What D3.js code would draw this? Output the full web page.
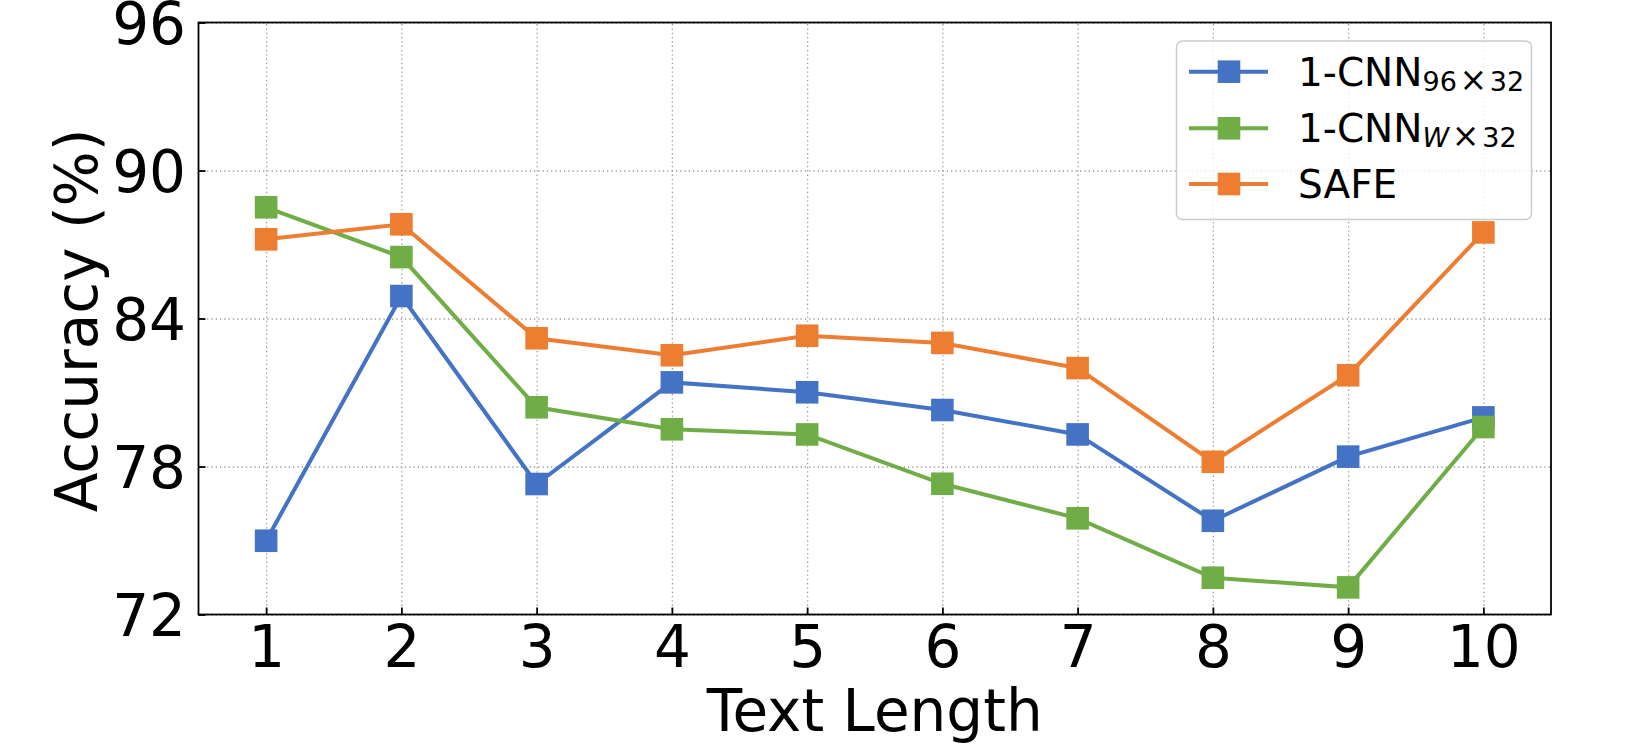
<!DOCTYPE html>
<html>
<head>
<meta charset="utf-8">
<script src="https://cdnjs.cloudflare.com/ajax/libs/d3/7.8.5/d3.min.js"></script>
<style>
  body { margin: 0; background: #fff; }
  text { font-family: "DejaVu Sans", sans-serif; fill: #000; }
</style>
</head>
<body>
<div id="main"></div>
<script>
'use strict';

// data
const textLength = [1, 2, 3, 4, 5, 6, 7, 8, 9, 10];
const cnn96 = [74.99, 84.91, 77.29, 81.41, 81.01, 80.29, 79.30, 75.80, 78.40, 79.99];
const cnnW = [88.51, 86.49, 80.40, 79.51, 79.30, 77.30, 75.90, 73.49, 73.10, 79.60];
const safe = [87.21, 87.82, 83.20, 82.51, 83.30, 83.01, 81.99, 78.19, 81.70, 87.49];
const yTicks = [72, 78, 84, 90, 96];

const series = [
  { name: '1-CNN', sub: '96', italic: false, values: cnn96, color: '#4472C4' },
  { name: '1-CNN', sub: 'W', italic: true, values: cnnW, color: '#70AD47' },
  { name: 'SAFE', sub: null, italic: false, values: safe, color: '#ED7D31' }
];

// canvas
const canvas = {
  width: 1650,
  height: 750,
  padding: { top: 22.5, right: 99, bottom: 135.5, left: 198.5 }
};
const plotW = canvas.width - canvas.padding.left - canvas.padding.right;
const plotH = canvas.height - canvas.padding.top - canvas.padding.bottom;

const svg = d3.select('#main')
  .append('svg')
  .attr('width', canvas.width)
  .attr('height', canvas.height);

const g = svg.append('g')
  .attr('transform', 'translate(' + canvas.padding.left + ',' + canvas.padding.top + ')');

const xScale = d3.scaleLinear().domain([0.5, 10.5]).range([0, plotW]);
const yScale = d3.scaleLinear().domain([72, 96]).range([plotH, 0]);

// grid
g.append('g')
  .attr('class', 'grid')
  .attr('transform', 'translate(0,' + plotH + ')')
  .call(d3.axisBottom(xScale).tickValues(textLength).tickSize(-plotH).tickFormat(''))
  .call(s => s.select('.domain').remove());
g.append('g')
  .attr('class', 'grid')
  .call(d3.axisLeft(yScale).tickValues(yTicks).tickSize(-plotW).tickFormat(''))
  .call(s => s.select('.domain').remove());
g.selectAll('.grid line')
  .attr('stroke', '#9a9a9a')
  .attr('stroke-width', 1.3)
  .attr('stroke-dasharray', '1.3,3');

// axes
const xAxis = g.append('g')
  .attr('transform', 'translate(0,' + plotH + ')')
  .call(d3.axisBottom(xScale).tickValues(textLength).tickSizeInner(-7).tickSizeOuter(0).tickPadding(11));
const yAxis = g.append('g')
  .call(d3.axisLeft(yScale).tickValues(yTicks).tickSizeInner(-7).tickSizeOuter(0).tickPadding(12.5));
[xAxis, yAxis].forEach(a => {
  a.select('.domain').remove();
  a.selectAll('line').attr('stroke', '#000').attr('stroke-width', 1.8);
  a.selectAll('text').attr('font-size', 58).attr('font-family', '"DejaVu Sans", sans-serif').attr('fill', '#000');
});
yAxis.selectAll('text').attr('dy', '0.36em');

// lines and markers
const line = d3.line()
  .x((d, i) => xScale(textLength[i]))
  .y(d => yScale(d));

series.forEach(s => {
  g.append('path')
    .datum(s.values)
    .attr('fill', 'none')
    .attr('stroke', s.color)
    .attr('stroke-width', 4)
    .attr('d', line);
  g.selectAll(null)
    .data(s.values)
    .enter()
    .append('rect')
    .attr('x', (d, i) => xScale(textLength[i]) - 11.3)
    .attr('y', d => yScale(d) - 11.3)
    .attr('width', 22.6)
    .attr('height', 22.6)
    .attr('fill', s.color);
});

// frame
g.append('rect')
  .attr('width', plotW)
  .attr('height', plotH)
  .attr('fill', 'none')
  .attr('stroke', '#000')
  .attr('stroke-width', 1.8);

// axis labels
svg.append('text')
  .attr('x', canvas.padding.left + plotW / 2)
  .attr('y', 730.5)
  .attr('text-anchor', 'middle')
  .attr('font-size', 58)
  .text('Text Length');
svg.append('text')
  .attr('transform', 'translate(97,' + (canvas.padding.top + plotH / 2 + 2) + ') rotate(-90)')
  .attr('text-anchor', 'middle')
  .attr('font-size', 58)
  .text('Accuracy (%)');

// legend
const legend = svg.append('g');
legend.append('rect')
  .attr('x', 1176.5)
  .attr('y', 41)
  .attr('width', 355)
  .attr('height', 178.5)
  .attr('rx', 6)
  .attr('fill', 'rgba(255,255,255,0.8)')
  .attr('stroke', '#cccccc')
  .attr('stroke-width', 1.5);

const rowY = [71.7, 128.3, 184];
series.forEach((s, i) => {
  const y = rowY[i];
  legend.append('line')
    .attr('x1', 1189).attr('x2', 1268)
    .attr('y1', y).attr('y2', y)
    .attr('stroke', s.color)
    .attr('stroke-width', 4);
  legend.append('rect')
    .attr('x', 1229 - 11.3).attr('y', y - 11.3)
    .attr('width', 22.6).attr('height', 22.6)
    .attr('fill', s.color);
  const t = legend.append('text')
    .attr('x', 1298)
    .attr('y', y + 14)
    .attr('font-size', 39);
  t.append('tspan').text(s.name);
  if (s.sub) {
    t.append('tspan')
      .attr('font-size', 27)
      .attr('dy', 5)
      .attr('font-style', s.italic ? 'italic' : 'normal')
      .text(s.sub + '\u200A');
    t.append('tspan')
      .attr('font-size', 33)
      .text('×');
    t.append('tspan')
      .attr('font-size', 27)
      .text('\u200A32');
  }
});
</script>
</body>
</html>
